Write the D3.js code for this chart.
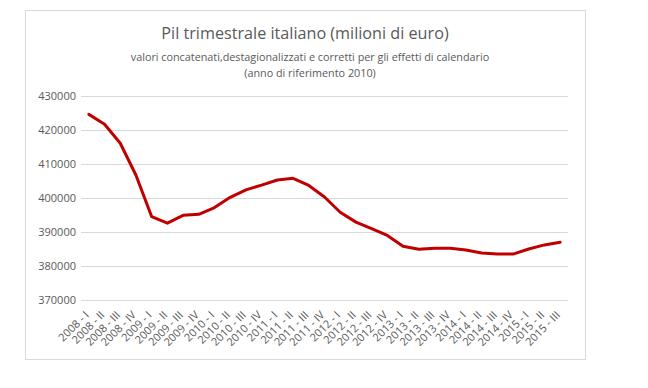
<!DOCTYPE html>
<html>
<head>
<meta charset="utf-8">
<script src="https://cdn.jsdelivr.net/npm/d3@7"></script>
<style>
  body { margin: 0; background: #fff; }
  svg { display: block; }
  text { font-family: "Open Sans", sans-serif; fill: #595959; }
</style>
</head>
<body>
<svg id="chart" width="648" height="388"></svg>
<script>
const quarters = [];
const years = [2008, 2009, 2010, 2011, 2012, 2013, 2014, 2015];
const romans = ["I", "II", "III", "IV"];
years.forEach(y => romans.forEach(r => quarters.push(y + " - " + r)));
const categories = quarters.slice(0, 31);

const pil = [424600, 421700, 416100, 406700, 394500, 392600, 394900, 395200,
             397200, 400200, 402400, 403800, 405300, 405800, 403700, 400300,
             395800, 392900, 391000, 389000, 385800, 384900, 385200, 385200,
             384700, 383800, 383500, 383500, 385000, 386200, 387000];

const yTicks = [370000, 380000, 390000, 400000, 410000, 420000, 430000];

const title = "Pil trimestrale italiano (milioni di euro)";
const subtitle = ["valori concatenati,destagionalizzati e corretti per gli effetti di calendario",
                  "(anno di riferimento 2010)"];

const svg = d3.select("#chart");

// chart border
svg.append("rect")
  .attr("x", 25.5).attr("y", 10.5)
  .attr("width", 560).attr("height", 349)
  .attr("fill", "#fff").attr("stroke", "#d9d9d9").attr("stroke-width", 1);

const plot = { left: 81, right: 568, top: 96, bottom: 300 };

const x = d3.scaleBand().domain(categories).range([plot.left, plot.right]);
const y = d3.scaleLinear().domain([370000, 430000]).range([plot.bottom, plot.top]);

// gridlines
const yAxis = d3.axisLeft(y).tickValues(yTicks).tickSize(-(plot.right - plot.left)).tickPadding(5).tickFormat(d3.format("d"));
const gy = svg.append("g").attr("transform", `translate(${plot.left},0)`).call(yAxis);
gy.select(".domain").remove();
gy.selectAll(".tick line").attr("stroke", "#d9d9d9").attr("stroke-width", 1);
gy.selectAll(".tick text").attr("font-size", "11px").attr("fill", "#595959").attr("x", -5);

// x axis labels
const xAxis = d3.axisBottom(x).tickSize(0).tickPadding(0);
const gx = svg.append("g").attr("transform", `translate(0,${plot.bottom})`).call(xAxis);
gx.select(".domain").remove();
gx.selectAll(".tick text")
  .attr("font-size", "11px")
  .attr("fill", "#595959")
  .attr("text-anchor", "end")
  .attr("dy", "0.35em")
  .attr("transform", "translate(-2,13) rotate(-45)")
  .attr("y", 0).attr("x", 0);

// line
const line = d3.line()
  .x((d, i) => x(categories[i]) + x.bandwidth() / 2)
  .y(d => y(d));

svg.append("path")
  .datum(pil)
  .attr("fill", "none")
  .attr("stroke", "#c00000")
  .attr("stroke-width", 3)
  .attr("stroke-linejoin", "round")
  .attr("stroke-linecap", "round")
  .attr("d", line);

// titles
svg.append("text").attr("x", 305).attr("y", 39)
  .attr("text-anchor", "middle").attr("font-size", "16.2px").text(title);
svg.append("text").attr("x", 310).attr("y", 61)
  .attr("text-anchor", "middle").attr("font-size", "10.8px").text(subtitle[0]);
svg.append("text").attr("x", 310).attr("y", 77)
  .attr("text-anchor", "middle").attr("font-size", "10.8px").text(subtitle[1]);
</script>
</body>
</html>
